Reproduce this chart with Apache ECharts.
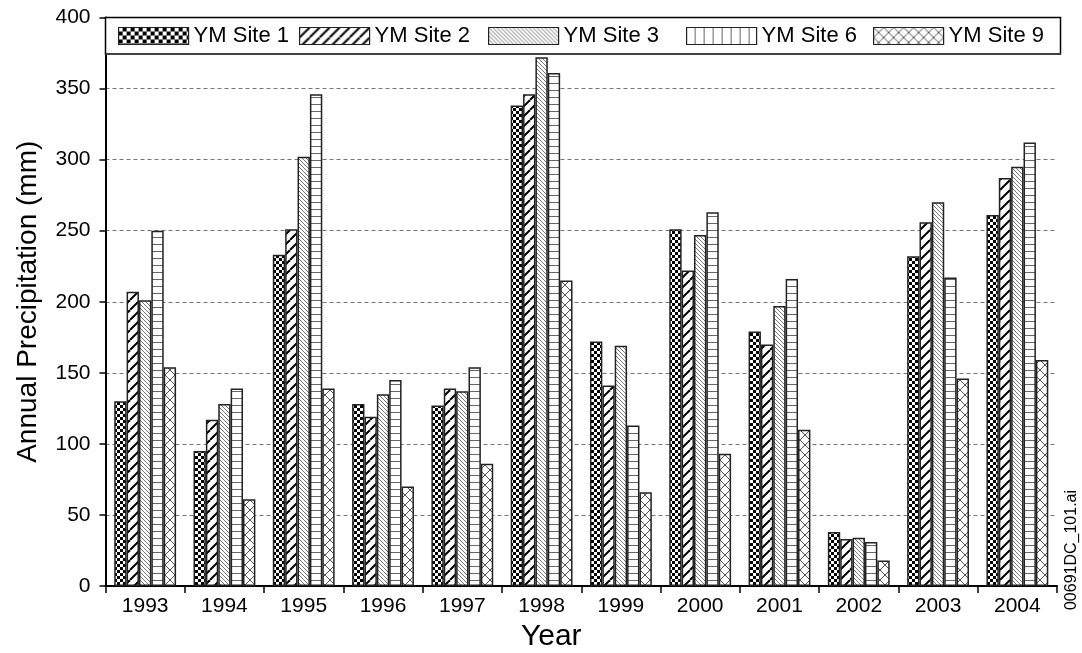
<!DOCTYPE html>
<html>
<head>
<meta charset="utf-8">
<script src="https://cdn.jsdelivr.net/npm/echarts@6/dist/echarts.min.js"></script>
<style>
html,body{margin:0;padding:0;background:#fff;}
#chart{width:1082px;height:653px;}
</style>
</head>
<body>
<div id="chart"></div>
<script>
const years = ['1993','1994','1995','1996','1997','1998','1999','2000','2001','2002','2003','2004'];
const seriesNames = ['YM Site 1','YM Site 2','YM Site 3','YM Site 6','YM Site 9'];
const site1 = [130, 95, 233, 128, 127, 338, 172, 251, 179, 38, 232, 261];
const site2 = [207, 117, 251, 119, 139, 346, 141, 222, 170, 33, 256, 287];
const site3 = [201, 128, 302, 135, 137, 372, 169, 247, 197, 34, 270, 295];
const site6 = [250, 139, 346, 145, 154, 361, 113, 263, 216, 31, 217, 312];
const site9 = [154, 61, 139, 70, 86, 215, 66, 93, 110, 18, 146, 159];
const yTicks = [0, 50, 100, 150, 200, 250, 300, 350, 400];

const FONT = '"Liberation Sans", Arial, sans-serif';

function tile(w, h, draw) {
  const c = document.createElement('canvas');
  c.width = w; c.height = h;
  const ctx = c.getContext('2d');
  ctx.fillStyle = '#fff';
  ctx.fillRect(0, 0, w, h);
  draw(ctx, w, h);
  return { image: c, repeat: 'repeat' };
}
const pCheck = tile(6, 6, (ctx) => {
  ctx.fillStyle = '#000';
  ctx.fillRect(0, 0, 6, 6);
  ctx.fillStyle = '#fff';
  ctx.fillRect(0, 0, 3, 3);
  ctx.fillRect(3, 3, 3, 3);
});
const pCheckLegend = tile(8, 8, (ctx) => {
  ctx.fillStyle = '#000';
  ctx.fillRect(0, 0, 8, 8);
  ctx.fillStyle = '#fff';
  ctx.fillRect(0, 0, 4, 4);
  ctx.fillRect(4, 4, 4, 4);
});
const pSlash = tile(10, 10, (ctx, s) => {
  ctx.strokeStyle = '#000'; ctx.lineWidth = 2;
  for (let k = -1; k <= 1; k++) {
    ctx.beginPath(); ctx.moveTo(k * s, s); ctx.lineTo(k * s + s, 0); ctx.stroke();
  }
});
const pBack = tile(4, 4, (ctx, s) => {
  ctx.strokeStyle = '#7a7a7a'; ctx.lineWidth = 1;
  for (let k = -1; k <= 1; k++) {
    ctx.beginPath(); ctx.moveTo(k * s, 0); ctx.lineTo(k * s + s, s); ctx.stroke();
  }
});
const pHoriz = tile(8, 7, (ctx) => {
  ctx.fillStyle = '#666';
  ctx.fillRect(0, 6, 8, 1);
});
const pVert = tile(9, 8, (ctx) => {
  ctx.fillStyle = '#666';
  ctx.fillRect(8, 0, 1, 8);
});
const pCross = tile(10, 10, (ctx, s) => {
  ctx.strokeStyle = '#555'; ctx.lineWidth = 1;
  for (let k = -1; k <= 1; k++) {
    ctx.beginPath(); ctx.moveTo(k * s, s); ctx.lineTo(k * s + s, 0); ctx.stroke();
    ctx.beginPath(); ctx.moveTo(k * s, 0); ctx.lineTo(k * s + s, s); ctx.stroke();
  }
});
const patterns = [pCheck, pSlash, pBack, pHoriz, pCross];
const legendPatterns = [pCheckLegend, pSlash, pBack, pVert, pCross];
const dataSets = [site1, site2, site3, site6, site9];
const legendLefts = [118, 299, 488, 686, 873];

const chart = echarts.init(document.getElementById('chart'));
const option = {
  animation: false,
  backgroundColor: '#fff',
  textStyle: { fontFamily: FONT, color: '#000' },
  grid: { left: 105.5, right: 25, top: 17.5, bottom: 67, containLabel: false, outerBoundsMode: 'none' },
  legend: seriesNames.map((n, i) => ({
    data: [{ name: n, itemStyle: { color: legendPatterns[i], borderColor: '#222', borderWidth: 1.2 } }],
    left: legendLefts[i], top: 25, padding: 0,
    itemWidth: 70, itemHeight: 17, icon: 'rect', z: 20,
    textStyle: { fontSize: 22, fontFamily: FONT, color: '#000' }
  })),
  xAxis: {
    type: 'category', data: years,
    name: 'Year', nameLocation: 'middle', nameGap: 35,
    nameTextStyle: { fontSize: 30, fontFamily: FONT, color: '#000', padding: [0, 60, 0, 0] },
    axisLine: { lineStyle: { color: '#000', width: 2 } },
    axisTick: { show: true, length: 7, lineStyle: { color: '#000', width: 1.5 } },
    axisLabel: { fontSize: 21, color: '#000', margin: 10, fontFamily: FONT }
  },
  yAxis: {
    type: 'value', min: 0, max: 400, interval: 50,
    name: 'Annual Precipitation (mm)', nameLocation: 'middle', nameGap: 63, nameRotate: 90,
    nameTextStyle: { fontSize: 28, fontFamily: FONT, color: '#000' },
    axisLine: { show: true, lineStyle: { color: '#000', width: 2 } },
    axisTick: { show: true, length: 6, lineStyle: { color: '#000', width: 1.5 } },
    axisLabel: { fontSize: 21, color: '#000', margin: 15, fontFamily: FONT,
      formatter: (v) => yTicks.includes(v) ? String(v) : '' },
    splitLine: { show: true, lineStyle: { color: '#777', width: 1, type: [4, 3] } }
  },
  graphic: [
    { type: 'rect', z: 5, shape: { x: 105.5, y: 17.5, width: 955, height: 36.5 },
      style: { fill: '#fff', stroke: '#000', lineWidth: 1.5 } },
    { type: 'line', z: 6, shape: { x1: 105.5, y1: 54, x2: 1061, y2: 54 },
      style: { stroke: '#444', lineWidth: 1.5 } },
    { type: 'text', z: 6, x: 1072, y: 550, rotation: Math.PI / 2,
      style: { text: '00691DC_101.ai', fontSize: 16, fontFamily: FONT, fill: '#000',
        align: 'center', verticalAlign: 'middle' } }
  ],
  series: seriesNames.map((n, i) => ({
    name: n, type: 'bar', data: dataSets[i],
    barGap: 0, barCategoryGap: '22%',
    itemStyle: { color: patterns[i], borderColor: '#222', borderWidth: 1.5 },
    emphasis: { disabled: true }
  }))
};
chart.setOption(option);
</script>
</body>
</html>
